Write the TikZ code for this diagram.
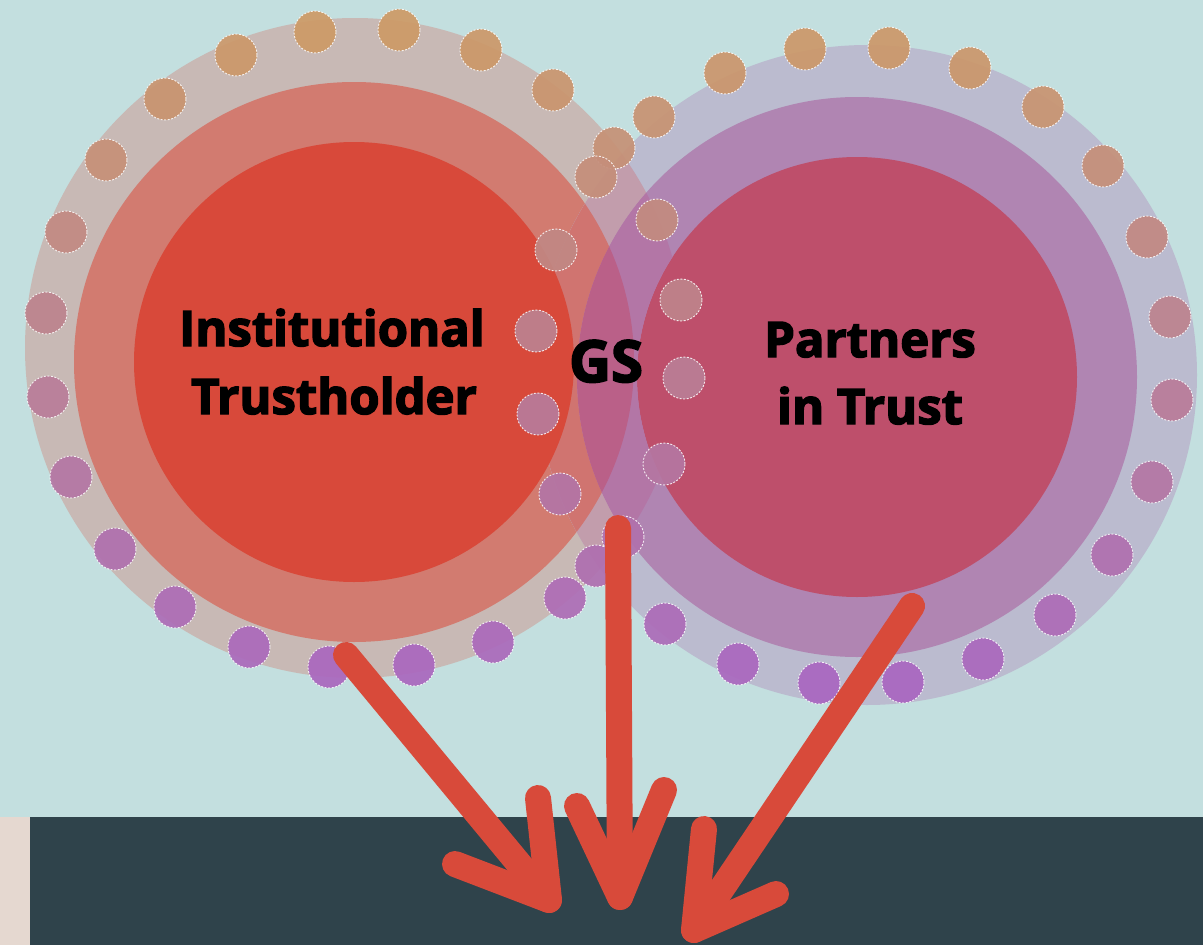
\documentclass[tikz,border=0pt]{standalone}
\usepackage{fontspec}
\setmainfont{Open Sans}
\newfontfamily\heavy{Open Sans}[BoldFeatures={FakeBold=3}]
\definecolor{bgc}{HTML}{C3DFDF}
\definecolor{bandc}{HTML}{2F434B}
\definecolor{stripc}{HTML}{E5D8D0}
\definecolor{loc}{HTML}{C8B9B5}
\definecolor{lmc}{HTML}{D27B70}
\definecolor{lic}{HTML}{D8493A}
\definecolor{roc}{HTML}{BBBBCF}
\definecolor{rmc}{HTML}{B085B2}
\definecolor{ric}{HTML}{BE4F6B}
\definecolor{ovloro}{HTML}{C29DAC}
\definecolor{ovlorm}{HTML}{B376A6}
\definecolor{ovlmro}{HTML}{D07470}
\definecolor{ovlmrm}{HTML}{BA6088}
\definecolor{dora}{HTML}{CD9A66}
\definecolor{dpur}{HTML}{A966C0}
\definecolor{arrc}{HTML}{D84A3A}
\begin{document}
\begin{tikzpicture}[x=1pt,y=-1pt,
  arr/.style={draw=arrc,line width=26pt,line cap=round,line join=round},
  dotline/.style={draw=white,line width=0.9pt,dash pattern=on 2pt off 1.5pt,draw opacity=0.85},
  lbl/.style={font=\heavy\bfseries\fontsize{49}{58}\selectfont,inner sep=0pt,anchor=base,text=black}]
\useasboundingbox (0,0) rectangle (1203,945);
\fill[bgc] (0,0) rectangle (1203,945);
\fill[bandc] (30,817) rectangle (1203,945);
\fill[stripc] (0,817) rectangle (30,945);
% circle centres
\coordinate (Lc) at (355,348);
\coordinate (Lm) at (354,362);
\coordinate (Rc) at (867,375);
\coordinate (Rm) at (857,377);
% base discs
\fill[loc] (Lc) circle[radius=330pt];
\fill[lmc] (Lm) circle[radius=280pt];
\fill[roc] (Rc) circle[radius=330pt];
\fill[rmc] (Rm) circle[radius=280pt];
\fill[ric] (Rm) circle[radius=220pt];
% overlaps
\begin{scope}
  \clip (Lc) circle[radius=330pt];
  \fill[ovloro,even odd rule] (Rc) circle[radius=330pt] (Rm) circle[radius=280pt];
  \fill[ovlorm,even odd rule] (Rm) circle[radius=280pt] (Rm) circle[radius=220pt];
  \clip (Lm) circle[radius=280pt];
  \fill[ovlmro,even odd rule] (Rc) circle[radius=330pt] (Rm) circle[radius=280pt];
  \fill[ovlmrm,even odd rule] (Rm) circle[radius=280pt] (Rm) circle[radius=220pt];
\end{scope}
\fill[lic] (Lm) circle[radius=220pt];
% dots
\foreach \px/\py in {
  236/55,315/32,399/30,481/50,553/90,614/148,596/177,
  165/99,106/160,66/232,46/313,48/397,71/477,115/549,175/607,249/647,
  329/667,414/665,493/642,565/598,623/537,596/566,560/494,538/414,536/331,556/250,
  654/117,725/73,805/49,889/48,970/68,1043/107,1103/166,1147/237,1170/317,
  1172/400,1152/482,1112/555,1055/615,983/659,903/682,819/683,738/664,665/624,
  664/464,684/378,681/300,657/220}{
  \pgfmathsetmacro\pp{max(0,min(100,(\py-30)/6.5))}
  \colorlet{dotc}{dpur!\pp!dora}
  \fill[dotc,opacity=0.92] (\px,\py) circle[radius=21pt];
  \draw[dotline] (\px,\py) circle[radius=21pt];
}
% arrows
\coordinate (a1s) at (346,655);
\coordinate (a1t) at (549,900);
\coordinate (a1l) at (455,864);
\coordinate (a1r) at (538,798);
\coordinate (a2s) at (618,528);
\coordinate (a2t) at (620,897);
\coordinate (a2l) at (577,806);
\coordinate (a2r) at (664,790);
\coordinate (a3s) at (912,606);
\coordinate (a3t) at (694,930);
\coordinate (a3l) at (704,829);
\coordinate (a3r) at (776,894);
\draw[arr] (a1s) -- (a1t);
\draw[arr] (a1l) -- (a1t) -- (a1r);
\draw[arr] (a2s) -- (a2t);
\draw[arr] (a2l) -- (a2t) -- (a2r);
\draw[arr] (a3s) -- (a3t);
\draw[arr] (a3l) -- (a3t) -- (a3r);
% labels
\node[lbl] (inst) at (332,346) {Institutional};
\node[lbl] (trus) at (334,414) {Trustholder};
\node[lbl] (part) at (870,357) {Partners};
\node[lbl] (intr) at (870,424) {in Trust};
\node[lbl,font=\heavy\bfseries\fontsize{58}{66}\selectfont] (gs) at (606,382) {GS};
\end{tikzpicture}
\end{document}
